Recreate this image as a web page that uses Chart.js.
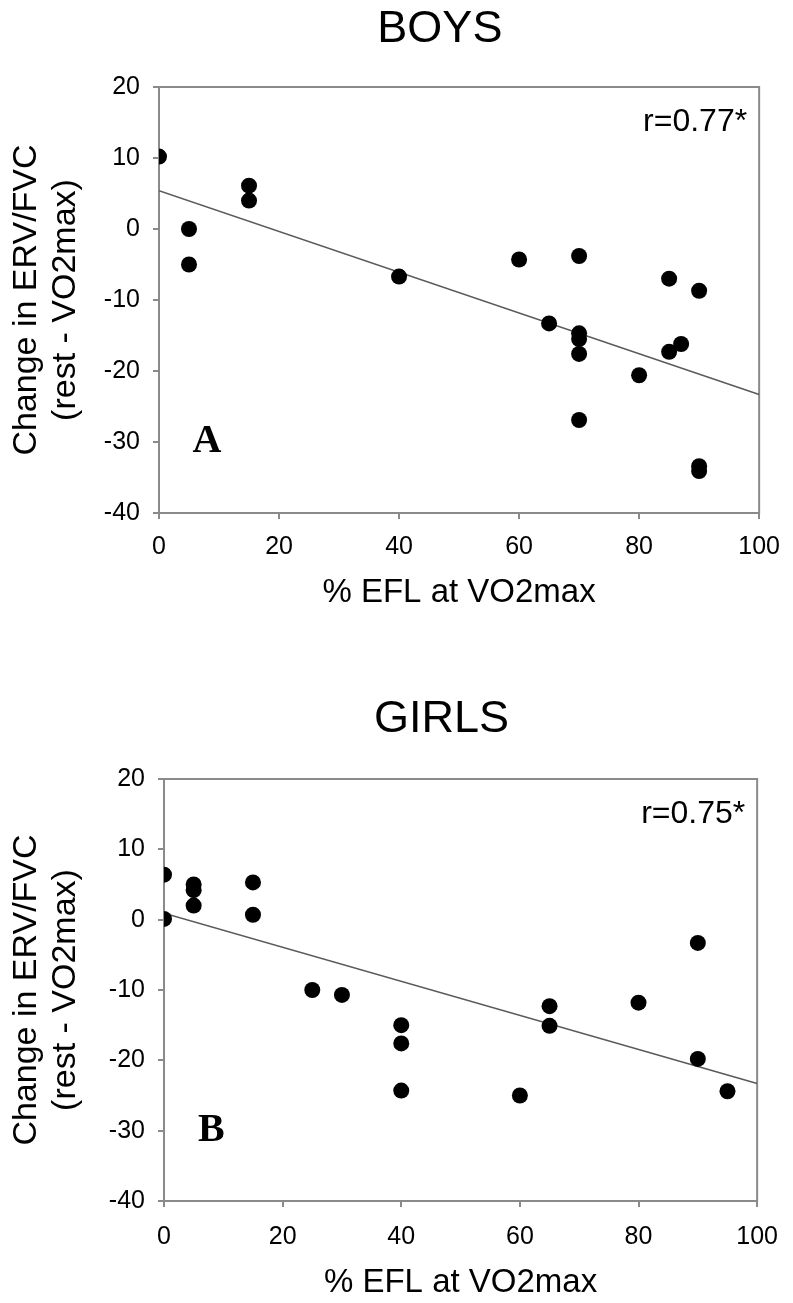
<!DOCTYPE html>
<html>
<head>
<meta charset="utf-8">
<script src="https://cdn.jsdelivr.net/npm/chart.js@4"></script>
<style>
  body { margin: 0; background: #fff; }
  canvas { display: block; }
</style>
</head>
<body>
<canvas id="boysChart" width="793" height="690"></canvas>
<canvas id="girlsChart" width="793" height="613"></canvas>
<script>
"use strict";

// 1: data (% EFL at VO2max vs change in ERV/FVC)
const boysEfl = [0, 5, 5, 15, 15, 40, 60, 65, 70, 70, 70, 70, 70, 80, 85, 85, 87, 90, 90, 90];
const boysErv = [10.2, 0, -5, 6.1, 4.0, -6.7, -4.3, -13.3, -3.8, -14.7, -15.5, -17.6, -26.9, -20.6, -7.0, -17.3, -16.2, -8.7, -33.4, -34.1];

const girlsEfl = [0, 0, 5, 5, 5, 15, 15, 25, 30, 40, 40, 40, 60, 65, 65, 80, 90, 90, 95];
const girlsErv = [6.4, 0.1, 5.0, 4.2, 2.0, 5.3, 0.7, -10.0, -10.7, -15.0, -17.6, -24.3, -25.0, -12.3, -15.1, -11.8, -3.3, -19.8, -24.4];

// regression lines, end points at 0 and 100 %
const fitX = [0, 100];
const boysFitY = [5.4, -23.3];
const girlsFitY = [0.9, -23.3];

const xTicks = [0, 20, 40, 60, 80, 100];
const yTicks = [-40, -30, -20, -10, 0, 10, 20];

const frameColor = '#8a8a8a';
Chart.defaults.font.family = '"Liberation Sans", Arial, sans-serif';
Chart.defaults.color = '#000';

// 2: frame, header, r value and panel letter
const panelText = {
  id: 'panelText',
  beforeDatasetsDraw(chart) {
    const {ctx, chartArea: a} = chart;
    ctx.save();
    ctx.strokeStyle = frameColor;
    ctx.lineWidth = 2;
    ctx.strokeRect(a.left, a.top, a.right - a.left, a.bottom - a.top);
    ctx.restore();
  },
  afterDraw(chart, args, opts) {
    const {ctx, chartArea: a, scales: {x, y}} = chart;
    ctx.save();
    ctx.fillStyle = '#000';
    ctx.textBaseline = 'middle';
    ctx.textAlign = 'center';
    ctx.font = '45px "Liberation Sans"';
    ctx.fillText(opts.header, a.left + 0.468 * a.width, 30);
    ctx.textAlign = 'right';
    ctx.font = '32px "Liberation Sans"';
    ctx.fillText(opts.corr, x.getPixelForValue(98), y.getPixelForValue(15));
    ctx.textAlign = 'center';
    ctx.font = 'bold 40px "Liberation Serif"';
    ctx.fillText(opts.letter, x.getPixelForValue(8), y.getPixelForValue(-30));
    ctx.restore();
  }
};

function points(xs, ys) {
  return xs.map((x, i) => ({x: x, y: ys[i]}));
}

// 3: create one panel
function makePanel(id, efl, erv, fitY, text, pad, yWidth, xHeight, xTickPad) {
  const ctx = document.getElementById(id);
  return new Chart(ctx, {
    type: 'scatter',
    data: {
      datasets: [{
        data: points(fitX, fitY),
        showLine: true,
        pointRadius: 0,
        borderColor: '#5a5a5a',
        borderWidth: 1.5,
        order: 2
      }, {
        data: points(efl, erv),
        pointRadius: 8,
        pointHoverRadius: 8,
        backgroundColor: '#000',
        borderWidth: 0,
        order: 1
      }]
    },
    options: {
      responsive: false,
      animation: false,
      events: [],
      layout: { padding: pad },
      plugins: {
        legend: { display: false },
        tooltip: { enabled: false },
        panelText: text
      },
      scales: {
        x: {
          type: 'linear',
          min: 0,
          max: 100,
          afterBuildTicks: s => { s.ticks = xTicks.map(v => ({value: v})); },
          afterFit: s => { s.height = xHeight; },
          ticks: { font: { size: 25 }, padding: xTickPad, maxRotation: 0 },
          grid: { drawOnChartArea: false, tickLength: 6, color: frameColor, lineWidth: 2 },
          border: { color: frameColor, width: 2 },
          title: {
            display: true,
            text: '% EFL at VO2max',
            font: { size: 33, lineHeight: 1.2 },
            padding: { top: 0, bottom: 0 }
          }
        },
        y: {
          type: 'linear',
          min: -40,
          max: 20,
          afterBuildTicks: s => { s.ticks = yTicks.map(v => ({value: v})); },
          afterFit: s => { s.width = yWidth; },
          ticks: { font: { size: 25 }, padding: 13 },
          grid: { drawOnChartArea: false, tickLength: 6, color: frameColor, lineWidth: 2 },
          border: { color: frameColor, width: 2 },
          title: {
            display: true,
            text: ['Change in ERV/FVC', '(rest - VO2max)'],
            font: { size: 34, lineHeight: 1.15 },
            padding: { top: 7, bottom: 0 }
          }
        }
      }
    },
    plugins: [panelText]
  });
}

makePanel('boysChart', boysEfl, boysErv, boysFitY,
  { header: 'BOYS', corr: 'r=0.77*', letter: 'A' },
  { top: 87, right: 26, bottom: 77, left: 0 }, 159, 100, 13);

makePanel('girlsChart', girlsEfl, girlsErv, girlsFitY,
  { header: 'GIRLS', corr: 'r=0.75*', letter: 'B' },
  { top: 89, right: 25, bottom: 0, left: 0 }, 164, 102, 15);
</script>
</body>
</html>
